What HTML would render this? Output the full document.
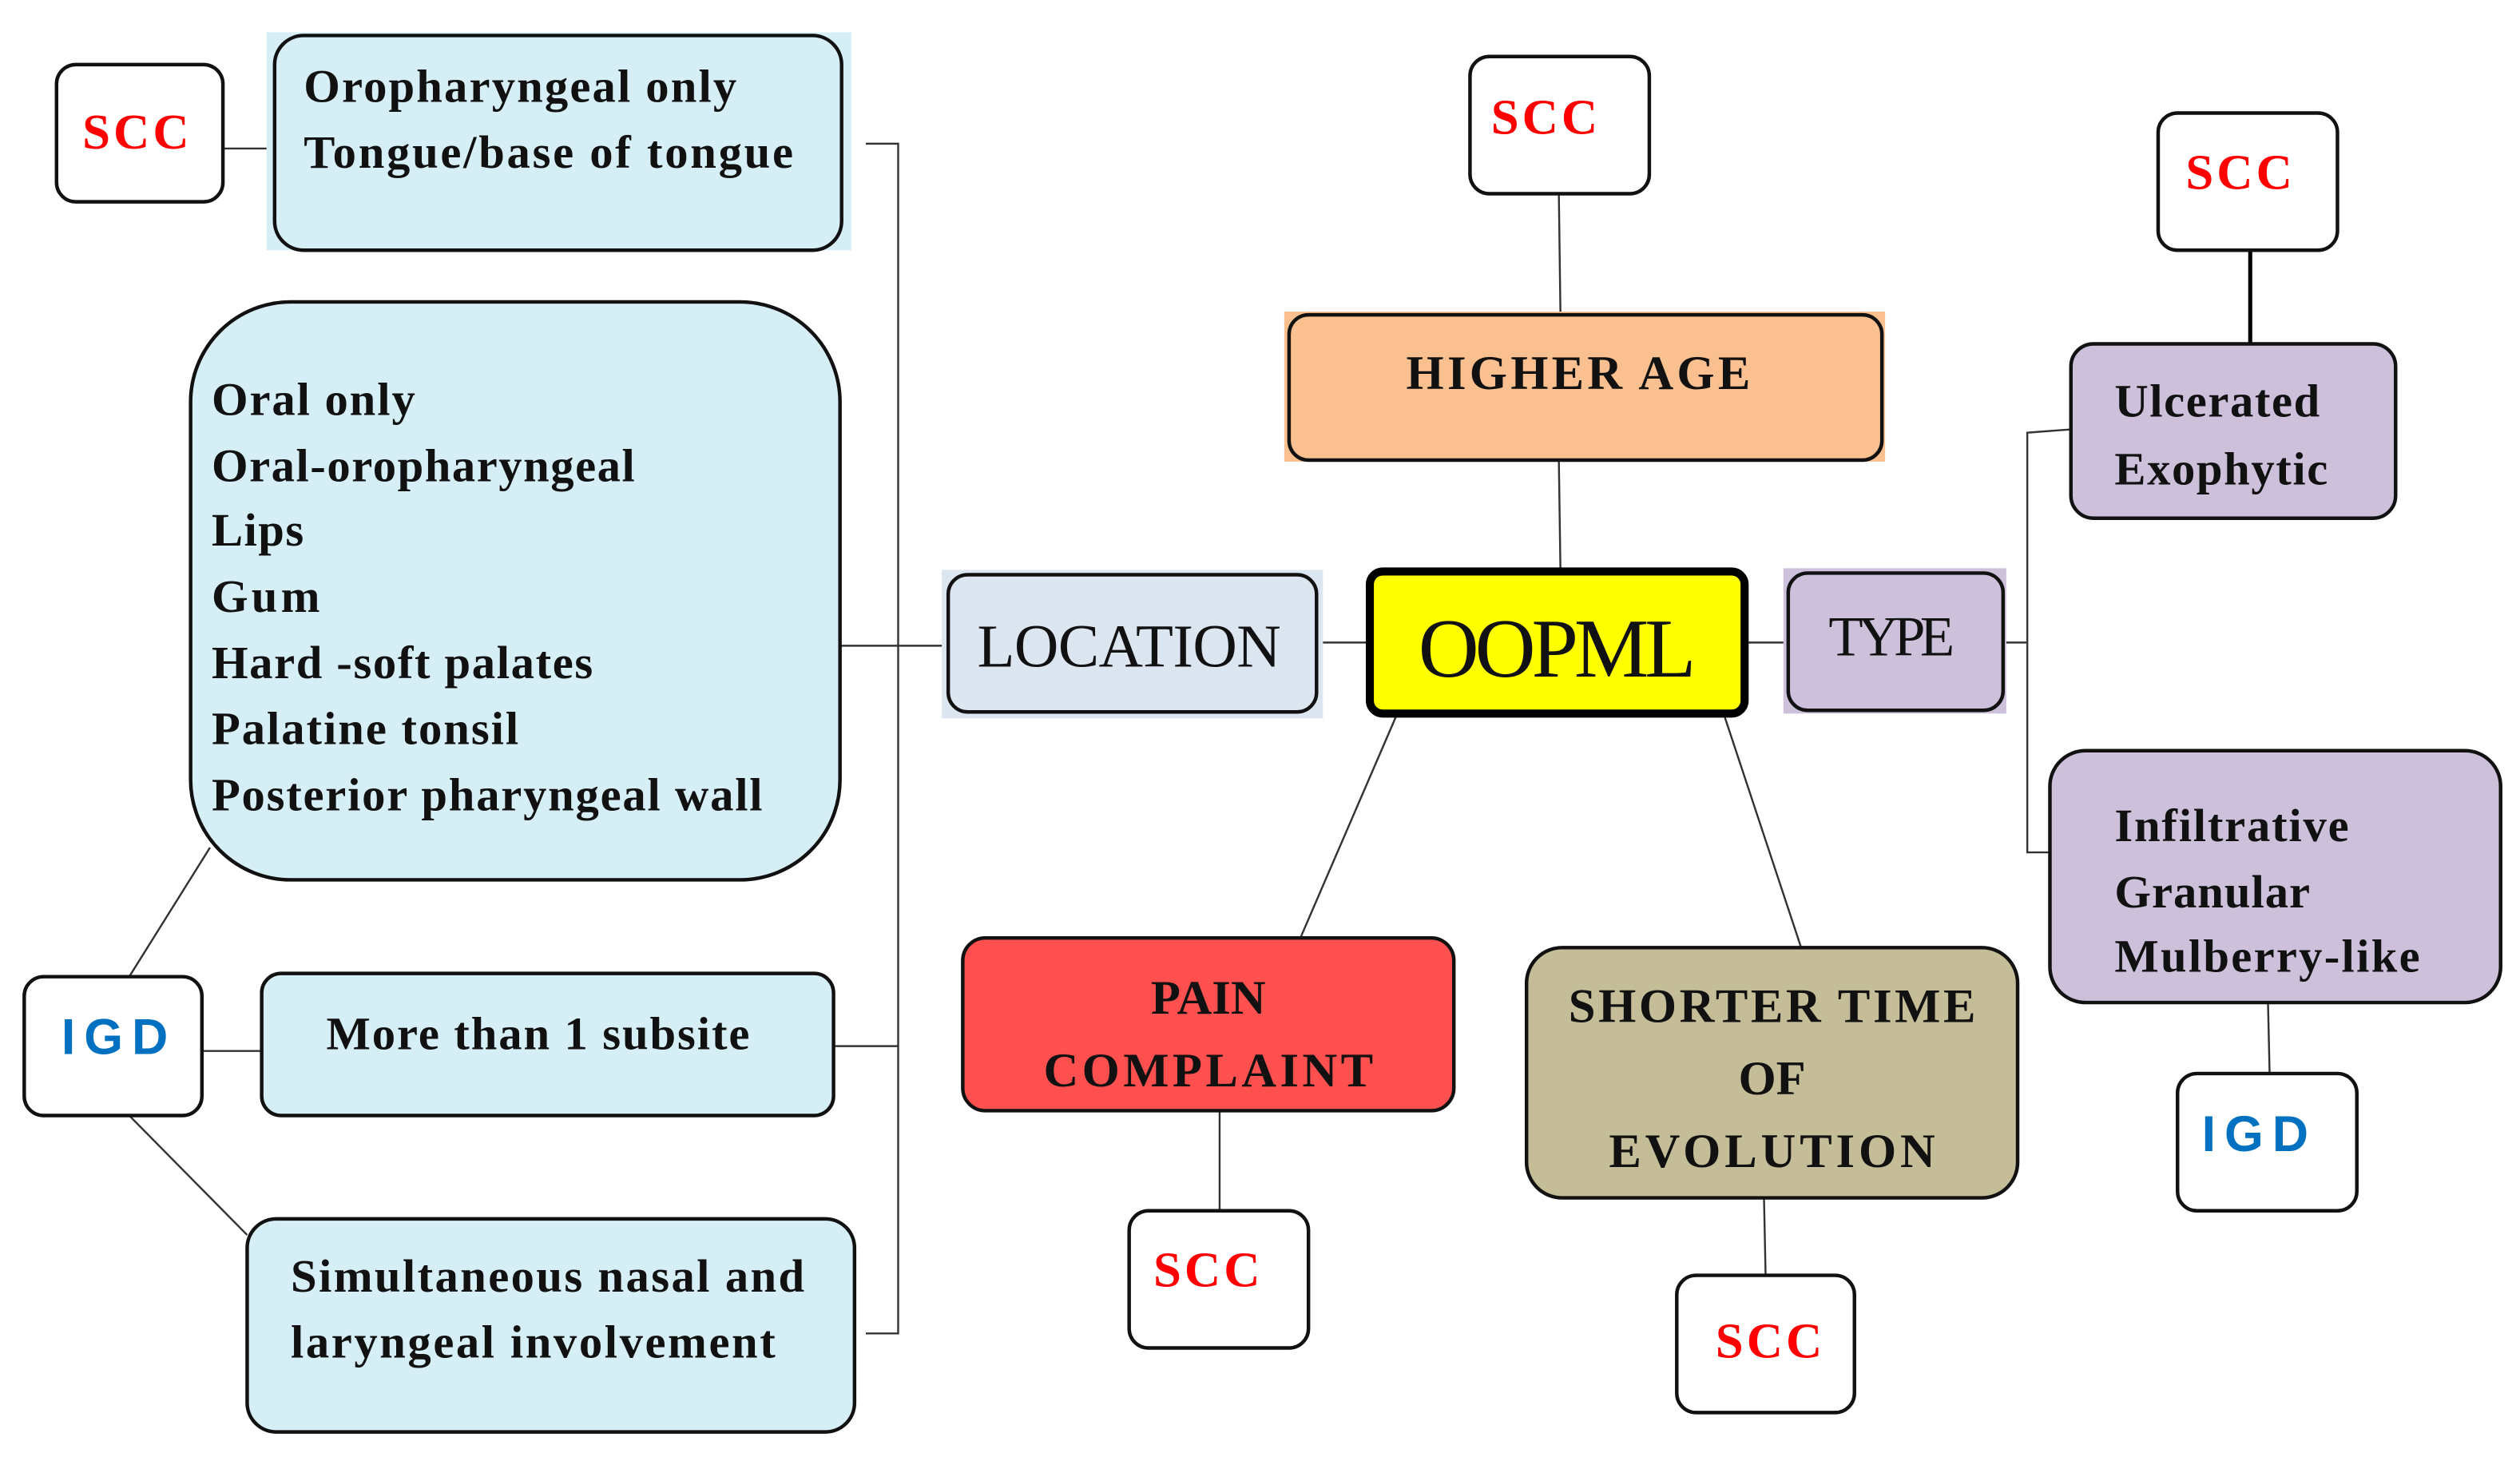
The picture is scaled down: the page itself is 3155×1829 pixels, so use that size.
<!DOCTYPE html>
<html><head><meta charset="utf-8"><style>
html,body{margin:0;padding:0;background:#fff;}
svg{display:block;}
text{font-family:"Liberation Serif",serif;}
.b{font-weight:bold;fill:#111;}
.scc{font-weight:bold;fill:#ff0000;font-size:31px;}
.igd{font-family:"Liberation Sans",sans-serif;font-weight:bold;fill:#0070c0;font-size:31px;}
.box{stroke:#111;stroke-width:2.2;}
.ln{stroke:#333;stroke-width:1.2;fill:none;}
</style></head><body>
<svg width="3155" height="1829" viewBox="0 0 1560 905" preserveAspectRatio="none" xmlns="http://www.w3.org/2000/svg">
<!-- connectors -->
<g class="ln">
<line x1="138" y1="92" x2="170" y2="92"/>
<polyline points="536,89 556,89 556,826 536,826"/>
<line x1="520" y1="400" x2="587" y2="400"/>
<line x1="516" y1="648" x2="556" y2="648"/>
<line x1="815" y1="398" x2="848" y2="398"/>
<line x1="965" y1="120" x2="966" y2="195"/>
<line x1="965" y1="285" x2="966" y2="354"/>
<line x1="1080" y1="398" x2="1107" y2="398"/>
<line x1="1240" y1="398" x2="1255" y2="398"/>
<polyline points="1282,266 1255,268 1255,528 1269,528"/>
<line x1="1404" y1="621" x2="1405" y2="665"/>
<line x1="865" y1="442" x2="805" y2="581"/>
<line x1="755" y1="688" x2="755" y2="750"/>
<line x1="1067" y1="442" x2="1115" y2="587"/>
<line x1="1092" y1="742" x2="1093" y2="790"/>
<line x1="80" y1="605" x2="130" y2="525"/>
<line x1="80" y1="691" x2="153" y2="765"/>
<line x1="125" y1="651" x2="162" y2="651"/>
</g>
<line x1="1393" y1="155" x2="1393" y2="213" stroke="#000" stroke-width="2.5"/>

<!-- left boxes -->
<rect x="35" y="40" width="103" height="85" rx="12" fill="#fff" class="box"/>
<text x="84" y="92" class="scc" text-anchor="middle" textLength="66">SCC</text>
<rect x="165" y="20" width="362" height="135" fill="#d6eef5"/>
<rect x="170" y="22" width="351" height="133" rx="18" fill="#d6eef5" class="box"/>
<text class="b" font-size="29"><tspan x="188" y="63" textLength="268">Oropharyngeal only</tspan><tspan x="188" y="104" textLength="303">Tongue/base of tongue</tspan></text>

<rect x="118" y="187" width="402" height="358" rx="62" fill="#d6eef5" class="box"/>
<text class="b" font-size="29">
<tspan x="131" y="257" textLength="126">Oral only</tspan>
<tspan x="131" y="298" textLength="262">Oral-oropharyngeal</tspan>
<tspan x="131" y="338" textLength="57">Lips</tspan>
<tspan x="131" y="379" textLength="67">Gum</tspan>
<tspan x="131" y="420" textLength="236">Hard -soft palates</tspan>
<tspan x="131" y="461" textLength="190">Palatine tonsil</tspan>
<tspan x="131" y="502" textLength="341">Posterior pharyngeal wall</tspan>
</text>

<rect x="15" y="605" width="110" height="86" rx="12" fill="#fff" class="box"/>
<text x="71" y="653" class="igd" text-anchor="middle" textLength="66">IGD</text>
<rect x="162" y="603" width="354" height="88" rx="12" fill="#d6eef5" class="box"/>
<text x="202" y="650" class="b" font-size="29" textLength="262">More than 1 subsite</text>
<rect x="153" y="755" width="376" height="132" rx="18" fill="#d6eef5" class="box"/>
<text class="b" font-size="29"><tspan x="180" y="800" textLength="318">Simultaneous nasal and</tspan><tspan x="180" y="841" textLength="300">laryngeal involvement</tspan></text>

<!-- center -->
<rect x="583" y="353" width="236" height="92" fill="#dce6f1"/>
<rect x="587" y="356" width="228" height="85" rx="12" fill="#dce6f1" class="box"/>
<text x="605" y="413" font-size="38" fill="#111" textLength="188">LOCATION</text>
<rect x="848" y="354" width="232" height="88" rx="8" fill="#ffff00" stroke="#000" stroke-width="5"/>
<text x="964" y="419" font-size="52" fill="#111" text-anchor="middle" textLength="172">OOPML</text>
<rect x="1104" y="352" width="138" height="90" fill="#ccc0da"/>
<rect x="1107" y="355" width="133" height="85" rx="12" fill="#ccc0da" class="box"/>
<text x="1171" y="406" font-size="35" fill="#111" text-anchor="middle" textLength="78">TYPE</text>

<rect x="910" y="35" width="111" height="85" rx="12" fill="#fff" class="box"/>
<text x="956" y="83" class="scc" text-anchor="middle" textLength="66">SCC</text>
<rect x="795" y="193" width="372" height="93" fill="#fac090"/>
<rect x="798" y="195" width="367" height="90" rx="12" fill="#fac090" class="box"/>
<text x="977" y="241" class="b" font-size="30" text-anchor="middle" textLength="213">HIGHER AGE</text>

<rect x="596" y="581" width="304" height="107" rx="14" fill="#ff5050" class="box"/>
<text class="b" font-size="30" text-anchor="middle"><tspan x="748" y="628">PAIN</tspan><tspan x="748" y="673" textLength="204">COMPLAINT</tspan></text>
<rect x="699" y="750" width="111" height="85" rx="12" fill="#fff" class="box"/>
<text x="747" y="797" class="scc" text-anchor="middle" textLength="66">SCC</text>

<rect x="945" y="587" width="304" height="155" rx="22" fill="#c4bd97" class="box"/>
<text class="b" font-size="30" text-anchor="middle"><tspan x="1097" y="633" textLength="252">SHORTER TIME</tspan><tspan x="1097" y="678">OF</tspan><tspan x="1097" y="723" textLength="202">EVOLUTION</tspan></text>
<rect x="1038" y="790" width="110" height="85" rx="12" fill="#fff" class="box"/>
<text x="1095" y="841" class="scc" text-anchor="middle" textLength="66">SCC</text>

<!-- right -->
<rect x="1336" y="70" width="111" height="85" rx="12" fill="#fff" class="box"/>
<text x="1386" y="117" class="scc" text-anchor="middle" textLength="66">SCC</text>
<rect x="1282" y="213" width="201" height="108" rx="14" fill="#ccc0da" class="box"/>
<text class="b" font-size="29"><tspan x="1309" y="258" textLength="127">Ulcerated</tspan><tspan x="1309" y="300" textLength="132">Exophytic</tspan></text>
<rect x="1269" y="465" width="279" height="156" rx="22" fill="#ccc0da" class="box"/>
<text class="b" font-size="29"><tspan x="1309" y="521" textLength="145">Infiltrative</tspan><tspan x="1309" y="562" textLength="121">Granular</tspan><tspan x="1309" y="602" textLength="189">Mulberry-like</tspan></text>
<rect x="1348" y="665" width="111" height="85" rx="12" fill="#fff" class="box"/>
<text x="1396" y="713" class="igd" text-anchor="middle" textLength="66">IGD</text>
</svg>
</body></html>
